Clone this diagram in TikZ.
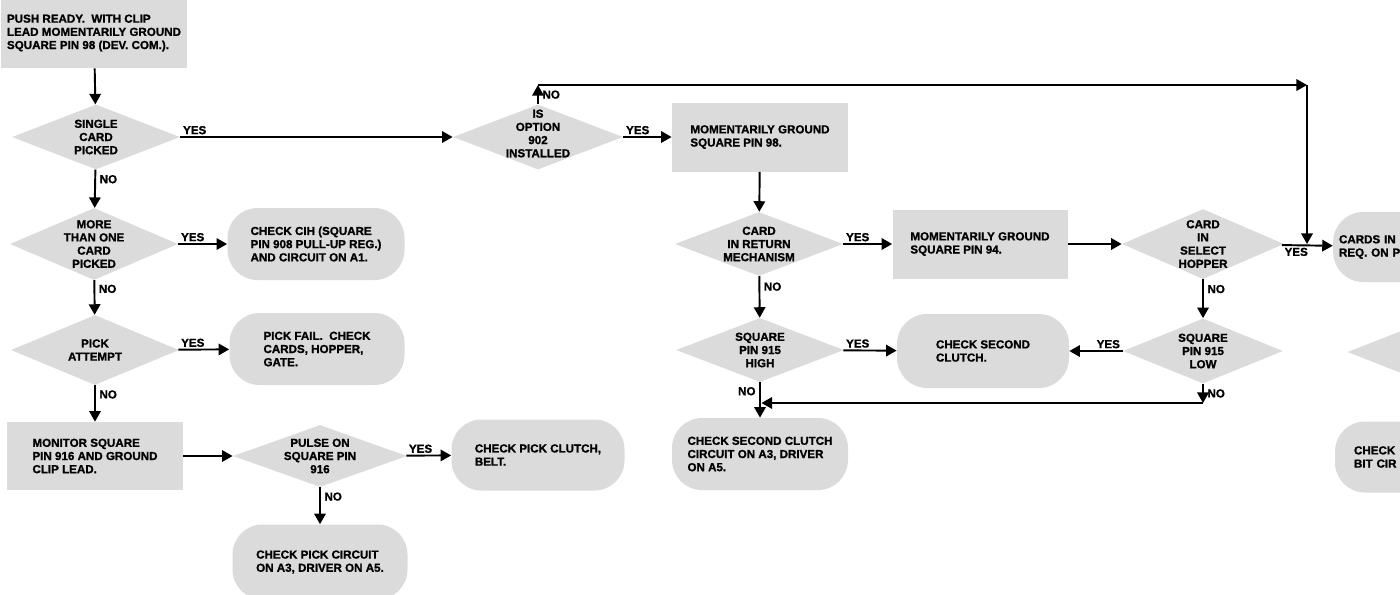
\documentclass[tikz,border=0pt]{standalone}
\usepackage{fontspec}
\setmainfont[BoldFeatures={FakeBold=1.2}]{Liberation Sans}
\usetikzlibrary{shapes.geometric,arrows.meta}

\tikzset{
	every node/.style={font=\fontsize{6.6}{7.5}\selectfont\bfseries},
	flow/.style={line width=1.1pt,-{Triangle[length=6pt,width=6.5pt]}},
	stepbox/.style={rectangle,fill=black!14,minimum width=3.52cm,
		minimum height=1.38cm,align=left},
	endbox/.style={rectangle,rounded corners=0.6cm,fill=black!14,
		minimum width=3.5cm,minimum height=1.44cm,align=left},
	decide/.style={diamond,fill=black!14,minimum width=3.36cm,
		minimum height=1.3cm,inner sep=0pt},
	txt/.style={align=center,inner sep=0pt},
}

\begin{document}
\begin{tikzpicture}[>=stealth]
	\clip (0,0) rectangle (28,-11.88);
	% left column
	\node[stepbox,minimum width=3.56cm,minimum height=1.4cm] (push) at (1.88,-0.66)
		{PUSH READY.~~WITH CLIP\\LEAD MOMENTARILY GROUND\\SQUARE PIN 98 (DEV. COM.).};
	\node[decide,label={[txt]center:{SINGLE\\CARD\\PICKED}}] (single) at (1.92,-2.74) {};
	\node[decide,minimum height=1.44cm,label={[txt]center:{MORE\\THAN ONE\\CARD\\PICKED}}] (more) at (1.88,-4.88) {};
	\node[decide,minimum height=1.4cm,label={[txt]center:{PICK\\ATTEMPT}}] (pick) at (1.90,-7.0) {};
	\node[stepbox,minimum height=1.36cm] (monitor) at (1.90,-9.12)
		{MONITOR SQUARE\\PIN 916 AND GROUND\\CLIP LEAD.};
	% second column
	\node[endbox,minimum width=3.54cm] (cih) at (6.32,-4.88)
		{CHECK CIH (SQUARE\\PIN 908 PULL-UP REG.)\\AND CIRCUIT ON A1.};
	\node[endbox] (fail) at (6.34,-6.98)
		{PICK FAIL.~~CHECK\\CARDS, HOPPER,\\GATE.};
	\node[decide,minimum width=3.48cm,minimum height=1.24cm,label={[txt]center:{PULSE ON\\SQUARE PIN\\916}}] (pulse) at (6.40,-9.12) {};
	\node[endbox,minimum height=1.5cm] (pickckt) at (6.40,-11.24)
		{CHECK PICK CIRCUIT\\ON A3, DRIVER ON A5.};
	% third column
	\node[decide,minimum width=3.4cm,label={[txt,yshift=2pt]center:{IS\\OPTION\\902\\INSTALLED}}] (option) at (10.76,-2.74) {};
	\node[endbox,minimum width=3.46cm,minimum height=1.42cm] (clutch) at (10.76,-9.10)
		{CHECK PICK CLUTCH,\\BELT.};
	% fourth column
	\node[stepbox] (mom98) at (15.20,-2.74) {MOMENTARILY GROUND\\SQUARE PIN 98.};
	\node[decide,minimum height=1.28cm,label={[txt]center:{CARD\\IN RETURN\\MECHANISM}}] (ret) at (15.18,-4.88) {};
	\node[decide,minimum height=1.28cm,label={[txt]center:{SQUARE\\PIN 915\\HIGH}}] (high) at (15.20,-7.0) {};
	\node[endbox,minimum width=3.52cm] (sckt) at (15.20,-9.08)
		{CHECK SECOND CLUTCH\\CIRCUIT ON A3, DRIVER\\ON A5.};
	% fifth column
	\node[stepbox,minimum width=3.5cm] (mom94) at (19.60,-4.88) {MOMENTARILY GROUND\\SQUARE PIN 94.};
	\node[endbox,minimum width=3.44cm,minimum height=1.48cm] (second) at (19.66,-7.02)
		{CHECK SECOND\\CLUTCH.};
	% sixth column
	\node[decide,minimum width=3.24cm,minimum height=1.4cm,label={[txt]center:{CARD\\IN\\SELECT\\HOPPER}}] (sel) at (24.06,-4.88) {};
	\node[decide,minimum width=3.2cm,label={[txt]center:{SQUARE\\PIN 915\\LOW}}] (low) at (24.06,-7.02) {};
	% last column, beyond the edge
	\node[endbox,minimum width=3.56cm,minimum height=1.4cm,text width=3.4cm] (cardsin) at (28.48,-4.94)
		{CARDS IN\\REQ. ON PI};
	\node[decide,minimum width=3.3cm] (next) at (28.60,-7.04) {};
	\node[endbox,minimum width=3.56cm,minimum height=1.42cm,text width=2.8cm] (checkbit) at (28.48,-9.14)
		{CHECK\\BIT CIR};
	% turning points
	\coordinate (topl) at (10.76,-1.70);
	\coordinate (topr) at (26.14,-1.70);
	\coordinate (join) at (26.14,-4.88);
	\coordinate (lowturn) at (24.06,-8.06);
	\coordinate (highjoin) at (15.23,-8.06);

	\draw[flow] (push) -- (single);
	\draw[flow] (single) -- node[at start,anchor=south west,inner sep=1pt]{YES} (option);
	\draw[flow] (single) -- node[near start,right,inner sep=2pt]{NO} (more);
	\draw[flow] (more) -- node[at start,anchor=south west,inner sep=1pt]{YES} (cih);
	\draw[flow] (more) -- node[near start,right,inner sep=2pt]{NO} (pick);
	\draw[flow] (pick) -- node[at start,anchor=south west,inner sep=1pt]{YES} (fail);
	\draw[flow] (pick) -- node[near start,right,inner sep=2pt]{NO} (monitor);
	\draw[flow] (monitor) -- (pulse);
	\draw[flow] (pulse) -- node[at start,anchor=south west,inner sep=1pt]{YES} (clutch);
	\draw[flow] (pulse) -- node[near start,right,inner sep=2pt]{NO} (pickckt);
	\draw[flow] (option) -- node[at start,anchor=south west,inner sep=1pt]{YES} (mom98);
	\draw[flow] (option) -- node[midway,right,inner sep=2pt]{NO} (topl);
	\draw[flow] (topl) -- (topr);
	\draw[flow] (topr) -- (join);
	\draw[flow] (mom98) -- (ret);
	\draw[flow] (ret) -- node[at start,anchor=south west,inner sep=1pt]{YES} (mom94);
	\draw[flow] (ret) -- node[near start,right,inner sep=2pt]{NO} (high);
	\draw[flow] (mom94) -- (sel);
	\draw[flow] (sel) -- node[at start,anchor=north west,inner sep=1pt]{YES} (cardsin);
	\draw[flow] (sel) -- node[near start,right,inner sep=2pt]{NO} (low);
	\draw[flow] (low) -- node[at start,anchor=south east,inner sep=1pt]{YES} (second);
	\draw[flow] (low) -- node[midway,right,inner sep=2pt]{NO} (lowturn);
	\draw[flow] (lowturn) -- (highjoin);
	\draw[flow] (high) -- node[at start,anchor=south west,inner sep=1pt]{YES} (second);
	\draw[flow] (high) -- node[near start,left,inner sep=2pt]{NO} (sckt);
\end{tikzpicture}
\end{document}
